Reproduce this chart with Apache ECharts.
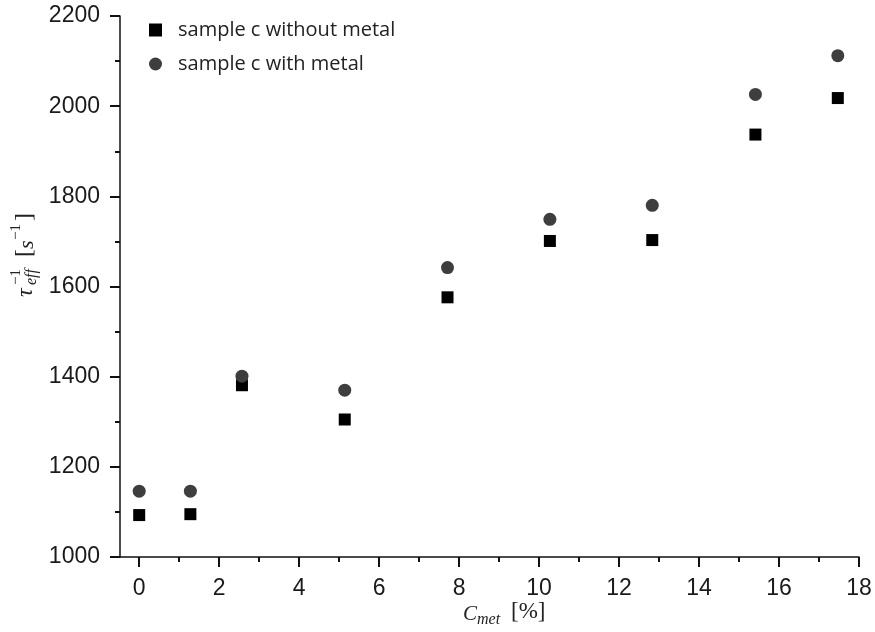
<!DOCTYPE html>
<html>
<head>
<meta charset="utf-8">
<script src="https://cdn.jsdelivr.net/npm/echarts@6/dist/echarts.min.js"></script>
<style>
html,body{margin:0;padding:0;background:#fff;}
#chart{width:875px;height:632px;}
</style>
</head>
<body>
<div id="chart"></div>
<script>
// ---- data ----
var xValues = [0, 1.28, 2.57, 5.14, 7.71, 10.27, 12.83, 15.41, 17.47];
var withoutMetal = [1093, 1095, 1381, 1305, 1576, 1701, 1703, 1937, 2018];
var withMetal = [1146, 1146, 1401, 1370, 1642, 1749, 1780, 2026, 2112];
var seriesNames = ['sample c without metal', 'sample c with metal'];
var xMajorTicks = [0, 2, 4, 6, 8, 10, 12, 14, 16, 18];
var xMinorTicks = [1, 3, 5, 7, 9, 11, 13, 15, 17];

function pairs(xs, ys) { return xs.map(function (x, i) { return [x, ys[i]]; }); }

var chart = echarts.init(document.getElementById('chart'));
var axisColor = '#111';
var labelFont = { color: '#1a1a1a', fontFamily: '"Liberation Sans", Arial, sans-serif', fontSize: 23 };
var serif = '"Liberation Serif", "DejaVu Serif", serif';

chart.setOption({
  animation: false,
  backgroundColor: '#fff',
  grid: { left: 120, right: 16, top: 16, bottom: 75 },
  legend: {
    orient: 'vertical', left: 144, top: 15,
    itemWidth: 13, itemHeight: 13, itemGap: 14,
    textStyle: { fontFamily: '"Open Sans", sans-serif', fontSize: 20, color: '#222', lineHeight: 20, padding: [0, 0, 0, 11] },
    data: [
      { name: seriesNames[0], icon: 'rect', itemStyle: { color: '#000', opacity: 1 } },
      { name: seriesNames[1], icon: 'circle', itemStyle: { color: '#3e3e3e', opacity: 1 } }
    ]
  },
  xAxis: [{
    type: 'value', position: 'bottom', min: -0.48, max: 18,
    axisLine: { onZero: false, lineStyle: { color: axisColor, width: 1.5 } },
    axisTick: { customValues: xMajorTicks, length: 10, lineStyle: { color: axisColor, width: 2 } },
    axisLabel: Object.assign({ customValues: xMajorTicks, margin: 20 }, labelFont),
    splitLine: { show: false }
  }, {
    type: 'value', position: 'bottom', min: -0.48, max: 18,
    axisLine: { show: false, onZero: false },
    axisTick: { customValues: xMinorTicks, length: 5, lineStyle: { color: axisColor, width: 2 } },
    axisLabel: { show: false },
    splitLine: { show: false }
  }],
  yAxis: {
    type: 'value', min: 1000, max: 2200, interval: 200,
    axisLine: { show: true, onZero: false, lineStyle: { color: axisColor, width: 1.5 } },
    axisTick: { show: true, length: 10, lineStyle: { color: axisColor, width: 2 } },
    minorTick: { show: true, splitNumber: 2, length: 5, lineStyle: { color: axisColor, width: 2 } },
    axisLabel: Object.assign({ margin: 20, formatter: function (v) { return String(v); } }, labelFont),
    splitLine: { show: false }
  },
  series: [{
    name: seriesNames[0], type: 'scatter', symbol: 'rect', symbolSize: 12,
    itemStyle: { color: '#000', opacity: 1 },
    data: pairs(xValues, withoutMetal)
  }, {
    name: seriesNames[1], type: 'scatter', symbol: 'circle', symbolSize: 13,
    itemStyle: { color: '#3e3e3e', opacity: 1 },
    data: pairs(xValues, withMetal)
  }],
  graphic: [
    // x axis name: C_met [%]
    { type: 'text', left: 463, top: 604, style: { text: 'C', font: 'italic 21px ' + serif, fill: '#222' } },
    { type: 'text', left: 477, top: 612, style: { text: 'met', font: 'italic 16px ' + serif, fill: '#222' } },
    { type: 'text', left: 511, top: 600, style: { text: '[%]', font: '23px ' + serif, fill: '#222' } },
    // y axis name: tau_eff^-1 [s^-1] rotated
    {
      type: 'group', x: 26, y: 297, rotation: Math.PI / 2,
      children: [
        { type: 'text', x: 0, y: 0, style: { text: 'τ', font: 'italic 24px ' + serif, fill: '#222', verticalAlign: 'middle' } },
        { type: 'text', x: 12, y: -10, style: { text: '−1', font: '15px ' + serif, fill: '#222', verticalAlign: 'middle' } },
        { type: 'text', x: 12, y: 6, style: { text: 'eff', font: 'italic 16px ' + serif, fill: '#222', verticalAlign: 'middle' } },
        { type: 'text', x: 40, y: -1, style: { text: '[', font: '24px ' + serif, fill: '#222', verticalAlign: 'middle' } },
        { type: 'text', x: 48, y: 1, style: { text: 's', font: 'italic 22px ' + serif, fill: '#222', verticalAlign: 'middle' } },
        { type: 'text', x: 57, y: -10, style: { text: '−1', font: '15px ' + serif, fill: '#222', verticalAlign: 'middle' } },
        { type: 'text', x: 76, y: -1, style: { text: ']', font: '24px ' + serif, fill: '#222', verticalAlign: 'middle' } }
      ]
    }
  ]
});
</script>
</body>
</html>
